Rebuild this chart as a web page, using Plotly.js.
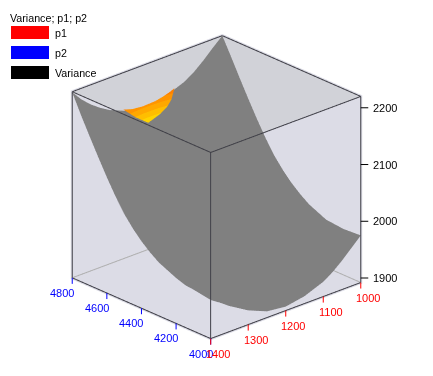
<!DOCTYPE html>
<html><head><meta charset="utf-8">
<script src="https://cdn.plot.ly/plotly-3.0.1.min.js"></script>
<style>html,body{margin:0;padding:0;background:#fff}#c{width:433px;height:376px}</style>
</head><body><div id="c"></div>
<script>
const p1Values = [1000,1025,1050,1075,1100,1150,1200,1250,1300,1325,1350,1375,1400];
const p2Values = [4000,4100,4200,4300,4350,4400,4450,4500,4550,4600,4650,4700,4750,4800];
// Variance: one row per p1, one column per p2
const varianceRows = [
 [1975,1973,1976,1990,2001,2014,2030,2049,2073,2100,2129,2159,2190,2220],
 [1959,1955,1958,1972,1983,1996,2012,2031,2055,2082,2111,2141,2172,2205],
 [1943,1939,1942,1956,1967,1980,1996,2015,2039,2066,2095,2125,2156,2189],
 [1929,1925,1928,1942,1953,1966,1982,2001,2025,2052,2081,2111,2142,2175],
 [1918,1914,1917,1931,1942,1955,1971,1990,2014,2041,2070,2100,2131,2164],
 [1905,1901,1904,1918,1929,1942,1958,1977,2001,2028,2057,2087,2118,2151],
 [1899,1895,1898,1912,1923,1936,1952,1971,1995,2022,2051,2081,2112,2145],
 [1903,1899,1902,1916,1927,1940,1956,1975,1999,2026,2055,2085,2116,2149],
 [1917,1913,1916,1930,1941,1954,1970,1989,2013,2040,2069,2099,2130,2163],
 [1927,1923,1926,1940,1951,1964,1980,1999,2023,2050,2079,2109,2140,2173],
 [1937,1935,1938,1952,1963,1976,1992,2011,2035,2062,2091,2121,2152,2185],
 [1949,1950,1953,1967,1978,1991,2007,2026,2050,2077,2106,2136,2167,2200],
 [1960,1965,1972,1986,1997,2010,2026,2045,2069,2096,2125,2155,2186,2219]
];
// Coloured part of the sheet
const patchP1 = [1264,1240,1225,1214,1179,1158,1143,1128];
const patchP2Rows = [
 [4799,4799,4799,4799,4799,4799,4799,4799],
 [4799,4790,4785,4782,4785,4788,4792,4799],
 [4799,4781,4770,4764,4771,4776,4784,4799]
];
const patchVarRows = [
 [2155,2150,2149,2148,2149,2152,2155,2159],
 [2155,2144,2139,2136,2139,2144,2150,2159],
 [2155,2138,2130,2124,2130,2137,2145,2159]
];
const p1Box = [1000,1400];
const p2Box = [4000,4800];
const zBox = [1892,2220];
const p1Range = [998,1402];
const p2Range = [3996,4804];
const zRange = [1890,2222];
const zTicks = [1900,2000,2100,2200];
const p1Ticks = [1000,1100,1200,1300,1400];
const p2Ticks = [4000,4200,4400,4600,4800];
const legendNames = ['p1','p2','Variance'];
const legendColors = ['#ff0000','#0000ff','#000000'];

const [a0,a1]=p1Box,[b0,b1]=p2Box,[z0,z1]=zBox;
const flat={ambient:1,diffuse:0,specular:0,roughness:1,fresnel:0};
const noHi={x:{highlight:false},y:{highlight:false},z:{highlight:false}};
const edge=(pts,color,w)=>({type:'scatter3d',mode:'lines',x:pts.map(p=>p[0]),y:pts.map(p=>p[1]),z:pts.map(p=>p[2]),
  line:{color,width:w},hoverinfo:'skip',showlegend:false});
const lid='#d1d2d8';
const traces=[
 {type:'surface',x:p2Values,y:p1Values,z:varianceRows,showscale:false,hoverinfo:'skip',
  colorscale:[[0,'#808080'],[1,'#808080']],lighting:flat,contours:noHi},
 {type:'surface',x:patchP2Rows,y:patchP2Rows.map(()=>patchP1),z:patchVarRows,showscale:false,hoverinfo:'skip',
  cmin:2124,cmax:2160,lighting:flat,contours:noHi,
  colorscale:[[0,'#ffd400'],[0.2,'#ffd400'],[0.2,'#ffbe00'],[0.4,'#ffbe00'],[0.4,'#ffa800'],[0.6,'#ffa800'],[0.6,'#ff9400'],[0.8,'#ff9400'],[0.8,'#ff8000'],[1,'#ff8000']]},
 {type:'mesh3d',x:[b1+2,b1+2,b1+2],y:[a1,a0,a0],z:[z1,z1,2006],i:[0],j:[1],k:[2],color:lid,lighting:flat,flatshading:true,hoverinfo:'skip'},
 {type:'mesh3d',x:[b1,b0,b1],y:[a0-1,a0-1,a0-1],z:[z1,z1,2022],i:[0],j:[1],k:[2],color:lid,lighting:flat,flatshading:true,hoverinfo:'skip'}
];
const dark='#404048';
traces.push(edge([[b0,a1,z1],[b1,a1,z1]],dark,2));
traces.push(edge([[b1,a1,z1],[b1,a0,z1]],dark,2));
traces.push(edge([[b1,a0,z1],[b0,a0,z1]],dark,2));
traces.push(edge([[b0,a0,z1],[b0,a1,z1]],dark,2));
traces.push(edge([[b0,a1,z0],[b0,a1,z1]],dark,2));
traces.push(edge([[b1,a1,z0],[b1,a1,z1]],dark,2));
traces.push(edge([[b0,a0,z0],[b0,a0,z1]],dark,2));
traces.push(edge([[b1,a1,z0],[b0,a1,z0]],dark,2));
traces.push(edge([[b0,a1,z0],[b0,a0,z0]],dark,2));
traces.push(edge([[b1,a1,z0],[b1,a0,z0]],'#b0b0b0',2));
traces.push(edge([[b1,a0,z0],[b0,a0,z0]],'#b0b0b0',2));
const ax=(range)=>({range,showticklabels:false,ticks:'',showgrid:false,zeroline:false,showspikes:false,showline:false,
  title:{text:''},showbackground:true,backgroundcolor:'#dcdce6',autorange:false});
const F='Liberation Sans';
const sceneAnn=[];
const addTick=(x,y,z,text,color,tx,ty,sx,sy,anchor)=>{
 sceneAnn.push({x,y,z,text:' ',showarrow:true,arrowhead:0,arrowwidth:1,arrowcolor:color,ax:tx,ay:ty,standoff:0,startstandoff:0,font:{size:1}});
 sceneAnn.push({x,y,z,text,showarrow:false,xshift:sx,yshift:sy,xanchor:anchor,yanchor:'middle',font:{family:F,size:11,color}});
};
p2Ticks.forEach(v=>addTick(v,a1,z0,String(v),'#0000ff',0,8,-10,-15,'center'));
p1Ticks.forEach(v=>addTick(b0,v,z0,String(v),'#ff0000',0,8,7.5,-15,'center'));
zTicks.forEach(v=>addTick(b0,a0,v,String(v),'#000000',9,0,10,0,'left'));
const k=1.097, kz=1.096;
const layout={width:433,height:376,margin:{l:0,r:0,t:0,b:0},paper_bgcolor:'#fff',showlegend:false,
 scene:{domain:{x:[0,1],y:[0,1]},aspectmode:'manual',aspectratio:{x:k,y:k,z:kz},
  camera:{projection:{type:'orthographic'},center:{x:0,y:0,z:-0.005},up:{x:0,y:0,z:1},eye:{x:-1.384,y:1.277,z:0.829}},
  xaxis:ax(p2Range),yaxis:ax(p1Range),zaxis:ax(zRange),annotations:sceneAnn},
 annotations:[{xref:'paper',yref:'paper',x:8/433,y:1-18/376,xanchor:'left',yanchor:'middle',showarrow:false,
   text:'Variance; p1; p2',font:{family:F,size:10.7,color:'#000'}}],
 shapes:[]};
legendNames.forEach((n,i)=>{
 const yc=32.5+20*i;
 layout.shapes.push({type:'rect',xref:'paper',yref:'paper',x0:11/433,x1:49/433,y0:1-(yc-6.5)/376,y1:1-(yc+6.5)/376,fillcolor:legendColors[i],line:{width:0}});
 layout.annotations.push({xref:'paper',yref:'paper',x:53/433,y:1-yc/376,xanchor:'left',yanchor:'middle',showarrow:false,text:n,font:{family:F,size:10.7,color:'#000'}});
});
Plotly.newPlot('c',traces,layout,{displayModeBar:false});
</script></body></html>
